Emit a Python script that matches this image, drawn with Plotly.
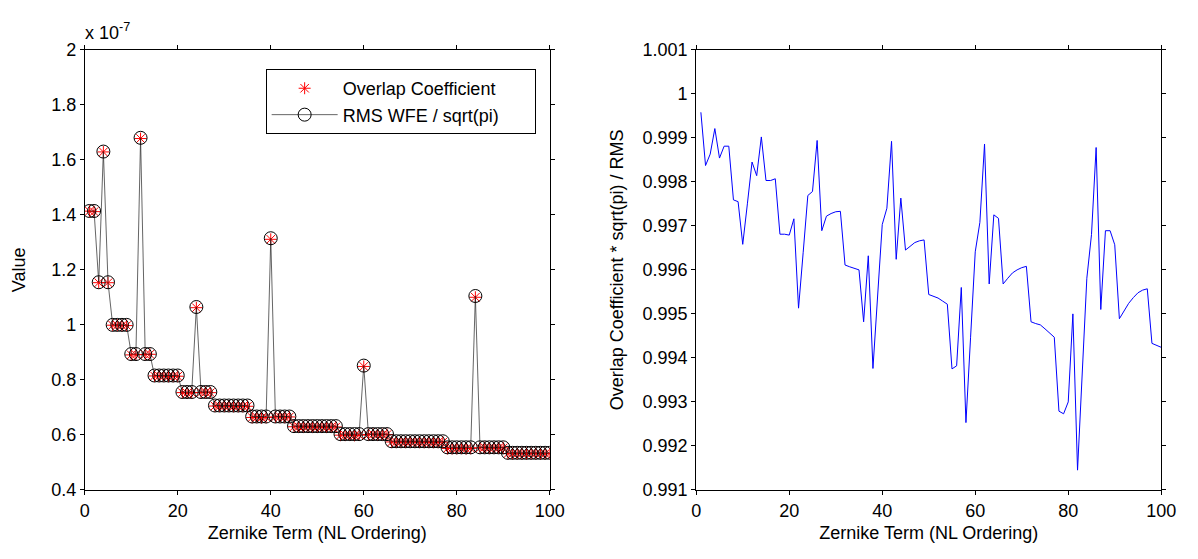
import plotly.graph_objects as go

# Zernike term index (NL ordering)
terms = list(range(1, 101))

# RMS WFE / sqrt(pi), in units of 1e-7
rms_wfe = [
    1.414, 1.414,
    1.155, 1.63, 1.155,
    1.0, 1.0, 1.0, 1.0,
    0.894, 0.894, 1.68, 0.894, 0.894,
    0.816, 0.816, 0.816, 0.816, 0.816, 0.816,
    0.756, 0.756, 0.756, 1.065, 0.756, 0.756, 0.756,
    0.707, 0.707, 0.707, 0.707, 0.707, 0.707, 0.707, 0.707,
    0.667, 0.667, 0.667, 0.667, 1.315, 0.667, 0.667, 0.667, 0.667,
    0.632, 0.632, 0.632, 0.632, 0.632, 0.632, 0.632, 0.632, 0.632, 0.632,
    0.603, 0.603, 0.603, 0.603, 0.603, 0.852, 0.603, 0.603, 0.603, 0.603, 0.603,
    0.577, 0.577, 0.577, 0.577, 0.577, 0.577, 0.577, 0.577, 0.577, 0.577, 0.577, 0.577,
    0.555, 0.555, 0.555, 0.555, 0.555, 0.555, 1.105, 0.555, 0.555, 0.555, 0.555, 0.555, 0.555,
    0.535, 0.535, 0.535, 0.535, 0.535, 0.535, 0.535, 0.535, 0.535, 0.535,
]

# Overlap Coefficient * sqrt(pi) / RMS
ratio = [
    0.99958, 0.99837, 0.99863, 0.99921, 0.99854, 0.99881, 0.99881, 0.99759, 0.99755, 0.99658,
    0.99750, 0.99845, 0.99814, 0.99902, 0.99803, 0.99803, 0.99807, 0.99681, 0.99681, 0.99679,
    0.99716, 0.99513, 0.99640, 0.99769, 0.99778, 0.99894, 0.99689, 0.99722, 0.99728, 0.99732,
    0.99733, 0.99611, 0.99607, 0.99603, 0.99600, 0.99482, 0.99632, 0.99376, 0.99540, 0.99703,
    0.99740, 0.99892, 0.99624, 0.99763, 0.99645, 0.99654, 0.99662, 0.99666, 0.99668, 0.99544,
    0.99540, 0.99536, 0.99529, 0.99522, 0.99375, 0.99382, 0.99560, 0.99253, 0.99447, 0.99641,
    0.99708, 0.99886, 0.99568, 0.99725, 0.99717, 0.99568, 0.99581, 0.99593, 0.99600, 0.99605,
    0.99608, 0.99482, 0.99478, 0.99475, 0.99466, 0.99457, 0.99447, 0.99279, 0.99273, 0.99300,
    0.99500, 0.99145, 0.99363, 0.99581, 0.99680, 0.99878, 0.99510, 0.99689, 0.99689, 0.99657,
    0.99489, 0.99508, 0.99524, 0.99537, 0.99548, 0.99554, 0.99557, 0.99433, 0.99428, 0.99424,
]

overlap = [r * q for r, q in zip(rms_wfe, ratio)]

# page is 1198x559; the browser body keeps its default 8px margin
OFF = 8
W, H = 1198 - 2 * OFF, 559 - 2 * OFF
FONT = "Liberation Sans, Arial, sans-serif"
FS = 18
PAD = "\u00a0" * 6  # widens the legend box like the reference


def px(xp):
    return (xp - OFF) / W


def py(yp):
    return 1 - (yp - OFF) / H


fig = go.Figure()
fig.add_trace(go.Scatter(
    x=terms, y=overlap, mode="markers", name="Overlap Coefficient",
    legendgroup="a",
    marker=dict(symbol="asterisk-open", size=10, color="red",
                line=dict(color="red", width=1)),
    xaxis="x", yaxis="y"))
fig.add_trace(go.Scatter(
    x=terms, y=rms_wfe, mode="lines+markers", name="RMS WFE / sqrt(pi)" + PAD,
    legendgroup="b",
    line=dict(color="#222222", width=0.7),
    marker=dict(symbol="circle-open", size=13, color="black",
                line=dict(color="black", width=1)),
    xaxis="x", yaxis="y"))
fig.add_trace(go.Scatter(
    x=terms, y=ratio, mode="lines", showlegend=False,
    line=dict(color="blue", width=1),
    xaxis="x2", yaxis="y2"))

ydom = [py(498), py(41)]
common = dict(showline=True, linecolor="black", linewidth=1, mirror="ticks",
              ticks="outside", ticklen=4, tickcolor="black", tickwidth=1,
              showgrid=False, zeroline=False,
              tickfont=dict(family=FONT, size=FS, color="black"))

fig.update_layout(
    width=W, height=H,
    margin=dict(l=0, r=0, t=0, b=0),
    paper_bgcolor="white", plot_bgcolor="white",
    font=dict(family=FONT, size=FS, color="black"),
    xaxis=dict(domain=[px(81), px(554)], range=[0, 100], dtick=20, anchor="y",
               title=dict(text="Zernike Term (NL Ordering)", standoff=6,
                          font=dict(family=FONT, size=FS)), **common),
    yaxis=dict(domain=ydom, range=[0.4, 2], dtick=0.2, anchor="x",
               title=dict(text="Value", standoff=20,
                          font=dict(family=FONT, size=FS)), **common),
    xaxis2=dict(domain=[px(703), px(1176)], range=[0, 100], dtick=20, anchor="y2",
                title=dict(text="Zernike Term (NL Ordering)", standoff=6,
                           font=dict(family=FONT, size=FS)), **common),
    yaxis2=dict(domain=ydom, range=[0.991, 1.001], dtick=0.001, anchor="x2",
                tickformat="~g",
                title=dict(text="Overlap Coefficient * sqrt(pi) / RMS", standoff=14,
                           font=dict(family=FONT, size=FS)), **common),
    legend=dict(x=px(265), y=py(61), xanchor="left", yanchor="top",
                bordercolor="black", borderwidth=1, bgcolor="white",
                itemwidth=66, tracegroupgap=0,
                font=dict(family=FONT, size=FS)),
    annotations=[dict(text="x 10<sup>-7</sup>", x=px(79), y=py(36),
                      xref="paper", yref="paper", xanchor="left", yanchor="bottom",
                      showarrow=False, font=dict(family=FONT, size=FS))],
)

fig.write_html("out.html", config={"displayModeBar": False})
